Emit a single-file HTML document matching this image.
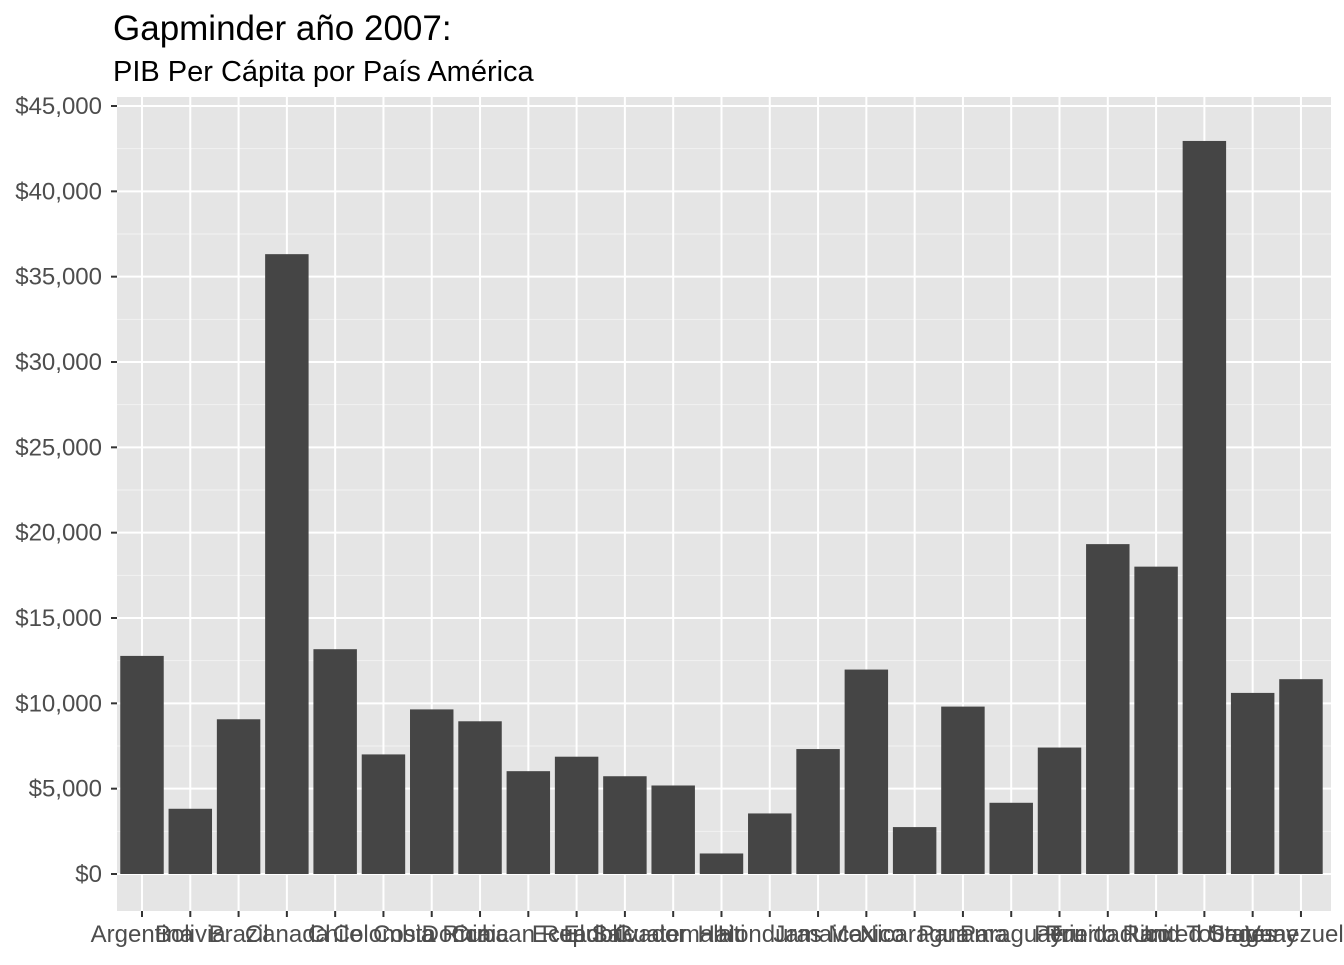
<!DOCTYPE html>
<html><head><meta charset="utf-8"><style>
body{margin:0;background:#fff;}
svg text{font-family:"Liberation Sans",Arial,sans-serif;}
</style></head><body>
<svg id="chart" width="1344" height="960" xmlns="http://www.w3.org/2000/svg">
<text x="113" y="40" font-size="35" fill="#000">Gapminder año 2007:</text>
<text x="113" y="81" font-size="29" fill="#000">PIB Per Cápita por País América</text>
<rect x="117" y="97" width="1214" height="814" fill="#e5e5e5"/>
<g id="grid"></g><g id="bars"></g><g id="axes"></g>
</svg>
<script>
const countries=["Argentina","Bolivia","Brazil","Canada","Chile","Colombia","Costa Rica","Cuba","Dominican Republic","Ecuador","El Salvador","Guatemala","Haiti","Honduras","Jamaica","Mexico","Nicaragua","Panama","Paraguay","Peru","Puerto Rico","Trinidad and Tobago","United States","Uruguay","Venezuela"];
const gdp=[12779,3822,9066,36319,13172,7007,9645,8948,6025,6873,5728,5186,1202,3548,7321,11978,2749,9809,4173,7409,19329,18009,42952,10611,11416];
const yTicks=[0,5000,10000,15000,20000,25000,30000,35000,40000,45000];
const ns="http://www.w3.org/2000/svg";
const y=v=>874-v*(768/45000);
const step=48.29;
const x=i=>142+i*step;
const L=117,R=1331;
function mk(t,a,p){const e=document.createElementNS(ns,t);for(const k in a)e.setAttribute(k,a[k]);p.appendChild(e);return e;}
const grid=document.getElementById('grid'),bars=document.getElementById('bars'),axes=document.getElementById('axes');
for(let i=0;i<yTicks.length-1;i++){
  const m=mk('line',{x1:L,x2:R,y1:y((yTicks[i]+yTicks[i+1])/2),y2:y((yTicks[i]+yTicks[i+1])/2),stroke:'#f2f2f2','stroke-width':1},grid);
  
  
}
yTicks.forEach(v=>{
  const g=mk('line',{x1:L,x2:R,y1:y(v),y2:y(v),stroke:'#fff','stroke-width':2},grid);
  
  
  const t=mk('line',{x1:L-6,x2:L,y1:y(v),y2:y(v),stroke:'#333','stroke-width':2},axes);
  
  
  const lb=mk('text',{x:L-15,y:y(v)+8,'text-anchor':'end','font-size':24,fill:'#4d4d4d'},axes);
  lb.textContent='$'+v.toLocaleString('en-US');
  
  
});
countries.forEach((c,i)=>{
  const g=mk('line',{x1:x(i),x2:x(i),y1:97,y2:911,stroke:'#fff','stroke-width':2},grid);
  
  
  const b=mk('rect',{x:x(i)-step*0.45,width:step*0.9,y:y(gdp[i]),height:y(0)-y(gdp[i]),fill:'#454545'},bars);
  
  
  const t=mk('line',{x1:x(i),x2:x(i),y1:911,y2:917,stroke:'#333','stroke-width':2},axes);
  
  
  const lb=mk('text',{x:x(i),y:942,'text-anchor':'middle','font-size':24,fill:'#4d4d4d'},axes);
  lb.textContent=c;
  
  
});
</script>
</body></html>
